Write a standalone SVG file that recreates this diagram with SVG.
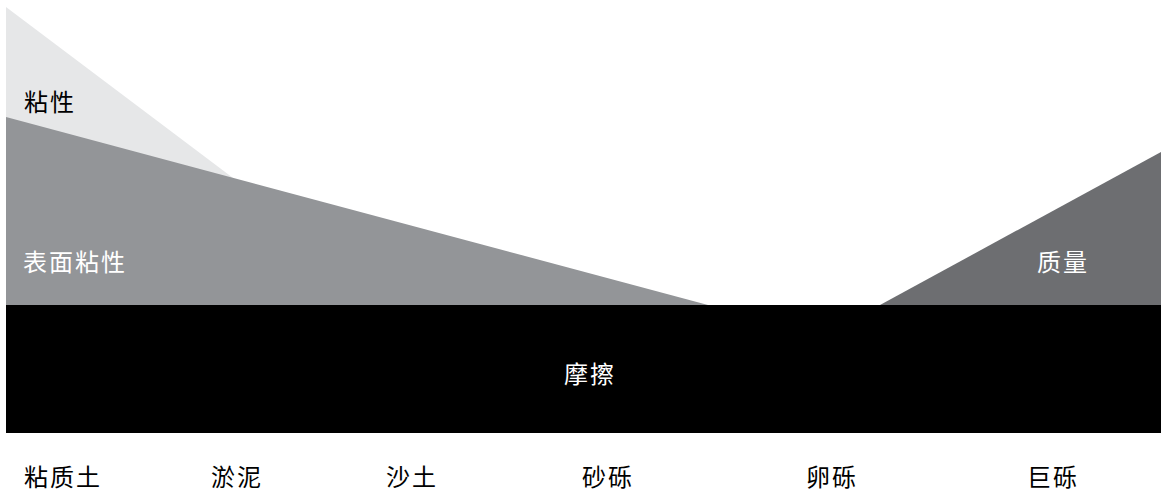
<svg xmlns="http://www.w3.org/2000/svg" width="1161" height="494" viewBox="0 0 1161 494">
<style>
text{font-family:"Noto Sans CJK SC","Liberation Sans",sans-serif;font-size:24px;letter-spacing:2px;font-weight:400}
.w{fill:#ffffff}
.k{fill:#000000}
</style>
<rect width="1161" height="494" fill="#ffffff"/>
<g id="adhesion">
<polygon points="6,7 402,305 6,305" fill="#e6e7e8"/>
<text class="k" x="24" y="111">粘性</text>
</g>
<g id="surface-adhesion">
<polygon points="6,117 708,305 6,305" fill="#939598"/>
<text class="w" x="23" y="271">表面粘性</text>
</g>
<g id="mass">
<polygon points="880,305 1161,152 1161,305" fill="#6d6e71"/>
<text class="w" x="1037" y="271">质量</text>
</g>
<g id="friction">
<rect x="6" y="305" width="1155" height="128" fill="#000000"/>
<text class="w" x="564" y="383">摩擦</text>
</g>
<g id="labels">
<text class="k" x="24" y="486">粘质土</text>
<text class="k" x="211" y="486">淤泥</text>
<text class="k" x="386" y="486">沙土</text>
<text class="k" x="582" y="486">砂砾</text>
<text class="k" x="806" y="486">卵砾</text>
<text class="k" x="1027" y="486">巨砾</text>
</g>
</svg>
